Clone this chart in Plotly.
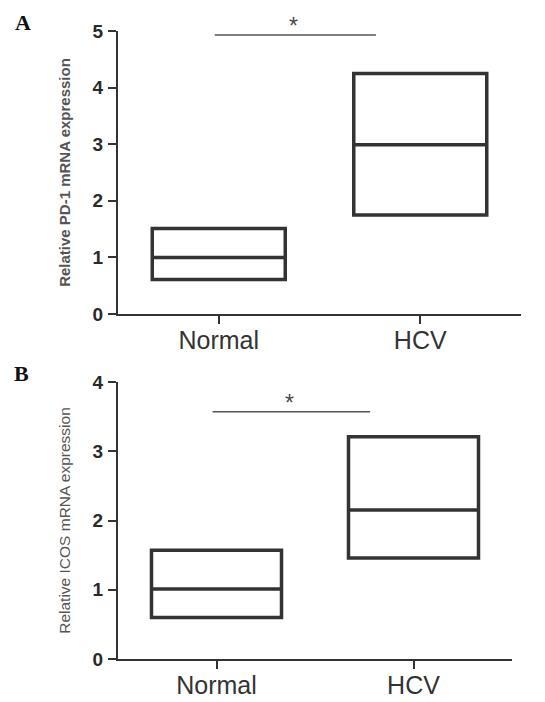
import plotly.graph_objects as go

# ---- data ----
categories = ["Normal", "HCV"]
cat_pos = [0, 1]

pd1_q1 = [0.61, 1.75]
pd1_median = [1.00, 2.99]
pd1_q3 = [1.51, 4.25]
pd1_sig_y = 4.93

icos_q1 = [0.60, 1.46]
icos_median = [1.01, 2.15]
icos_q3 = [1.57, 3.21]
icos_sig_y = 3.57

pd1_ticks = [0, 1, 2, 3, 4, 5]
icos_ticks = [0, 1, 2, 3, 4]

DARK = "#333333"
fig = go.Figure()

for q1, med, q3, xa, ya in [(pd1_q1, pd1_median, pd1_q3, "x", "y"),
                            (icos_q1, icos_median, icos_q3, "x2", "y2")]:
    fig.add_trace(go.Box(
        x=cat_pos, q1=q1, median=med, q3=q3, lowerfence=q1, upperfence=q3,
        width=0.66, whiskerwidth=0, fillcolor="rgba(255,255,255,0)",
        line=dict(color=DARK, width=3.5), boxpoints=False,
        hoverinfo="skip", xaxis=xa, yaxis=ya, showlegend=False))

# significance bars
for xr, yr, yv in [("x", "y", pd1_sig_y), ("x2", "y2", icos_sig_y)]:
    fig.add_shape(type="line", xref=xr, yref=yr, x0=-0.02, x1=0.78, y0=yv, y1=yv,
                  line=dict(color="#555555", width=1.5))
    fig.add_annotation(xref=xr, yref=yr, x=0.37, y=yv, text="*", showarrow=False,
                       yanchor="bottom", yshift=-6,
                       font=dict(family="Liberation Sans", size=23, color="#4a4a4a"))

axis_common = dict(showline=True, linecolor=DARK, linewidth=2, ticks="outside",
                   ticklen=8, tickwidth=2, tickcolor=DARK, showgrid=False, zeroline=False,
                   automargin=False)

xcommon = dict(axis_common, range=[-0.5, 1.5], tickvals=cat_pos, ticktext=categories,
               tickfont=dict(family="Liberation Sans", size=25, color=DARK),
               ticklabelstandoff=-5)
ycommon = dict(axis_common, tickfont=dict(family="Liberation Sans", size=19, color="#2a2a2a", weight="bold"),
               ticklabelstandoff=1)

fig.update_layout(
    width=545, height=702, autosize=False, margin=dict(l=0, r=0, t=0, b=0),
    plot_bgcolor="white", paper_bgcolor="white",
    xaxis=dict(xcommon, domain=[118/545, 521/545], anchor="y"),
    yaxis=dict(ycommon, domain=[1-314/702, 1-31/702], range=[0, 5], tickvals=pd1_ticks,
               anchor="x",
               title=dict(text="<b>Relative PD-1 mRNA expression</b>", standoff=18,
                          font=dict(family="Liberation Sans", size=15, color="#555555"))),
    xaxis2=dict(xcommon, domain=[118/545, 512/545], anchor="y2"),
    yaxis2=dict(ycommon, domain=[1-659/702, 1-382/702], range=[0, 4], tickvals=icos_ticks,
                anchor="x2",
                title=dict(text="Relative ICOS mRNA expression", standoff=18,
                           font=dict(family="Liberation Sans", size=15.5, color="#555555"))),
)

fig.add_annotation(xref="paper", yref="paper", x=13/545, y=1-22/702, text="<b>A</b>",
                   showarrow=False, xanchor="left", yanchor="middle",
                   font=dict(family="Liberation Serif", size=22, color="#111111"))
fig.add_annotation(xref="paper", yref="paper", x=12/545, y=1-373/702, text="<b>B</b>",
                   showarrow=False, xanchor="left", yanchor="middle",
                   font=dict(family="Liberation Serif", size=22, color="#111111"))

fig.write_html("out.html")
